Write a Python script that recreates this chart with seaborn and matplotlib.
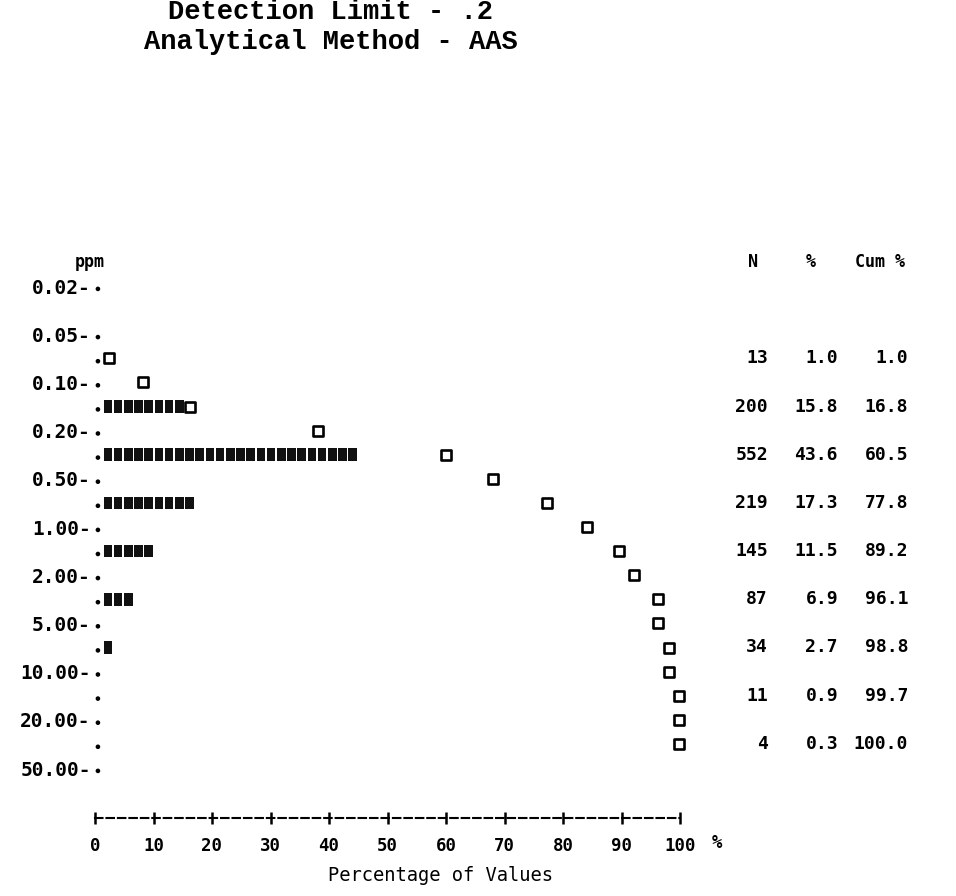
import matplotlib
matplotlib.use("Agg")
import matplotlib.pyplot as plt
import seaborn as sns
import pandas as pd

# ---------------- data ----------------
title_lines = ["Detection Limit - .2", "Analytical Method - AAS"]
ppm_labels = ["0.02", "0.05", "0.10", "0.20", "0.50", "1.00", "2.00",
              "5.00", "10.00", "20.00", "50.00"]
counts = [13, 200, 552, 219, 145, 87, 34, 11, 4]
pct = [1.0, 15.8, 43.6, 17.3, 11.5, 6.9, 2.7, 0.9, 0.3]
cum_pct = [1.0, 16.8, 60.5, 77.8, 89.2, 96.1, 98.8, 99.7, 100.0]
# number of printed "*" glyphs in each histogram row
stars = [0, 8, 25, 9, 5, 3, 1, 0, 0]
# plotted position of the cumulative marker on each histogram row
cum_mark = [2.4, 16.2, 60.0, 77.3, 89.5, 96.2, 98.1, 99.9, 99.9]
# cumulative marker printed on the class-boundary rows (0.10 ... 20.00)
cum_bound = [8.2, 38.1, 68.0, 84.1, 92.1, 96.2, 98.1, 99.9]
x_ticks = [0, 10, 20, 30, 40, 50, 60, 70, 80, 90, 100]
table_headers = ["N", "%", "Cum %"]
x_label = "Percentage of Values"

# ---------------- layout ----------------
W, H = 956, 896
sns.set_theme(style="white")
plt.rcParams["font.family"] = ["DejaVu Sans Mono", "DejaVu Sans"]
plt.rcParams["text.color"] = "black"
plt.rcParams["axes.labelcolor"] = "black"
plt.rcParams["xtick.color"] = "black"
plt.rcParams["ytick.color"] = "black"

fig = plt.figure(figsize=(W / 100, H / 100), dpi=100)
fig.patch.set_facecolor("white")

x0_px, x100_px = 95, 680
row0_px, row_step = 286, 24.1
top_px, bot_px = 250, 818
ax = fig.add_axes([x0_px / W, (H - bot_px) / H, (x100_px - x0_px) / W,
                   (bot_px - top_px) / H])
ax.set_facecolor("white")
ax.set_xlim(0, 100)
ax.set_ylim((bot_px - row0_px) / row_step, (top_px - row0_px) / row_step)

label_rows = [2 * i for i in range(len(ppm_labels))]
data_rows = [2 * i + 3 for i in range(len(counts))]
bound_rows = label_rows[2:2 + len(cum_bound)]

# dotted vertical axis (one "." per printed row)
dot_rows = sorted(label_rows + data_rows)
dots = pd.DataFrame({"x": [0.5] * len(dot_rows), "row": [r + 0.12 for r in dot_rows]})
sns.scatterplot(data=dots, x="x", y="row", ax=ax, marker="o", s=11,
                color="black", edgecolor="none", legend=False)

# histogram bars drawn as printed "*" glyph blocks
star_x, star_y = [], []
for r, n in zip(data_rows, stars):
    for k in range(n):
        star_x.append(2.2 + 1.744 * k)
        star_y.append(r)
block = [(-0.35, -0.5), (0.35, -0.5), (0.35, 0.5), (-0.35, 0.5)]
sdf = pd.DataFrame({"x": star_x, "row": star_y})
sns.scatterplot(data=sdf, x="x", y="row", ax=ax, marker=block, s=80,
                color="#111111", edgecolor="none", legend=False)

# cumulative markers (the "¤" glyphs)
cdf = pd.DataFrame({"x": cum_mark + cum_bound,
                    "row": data_rows + bound_rows})
sns.scatterplot(data=cdf, x="x", y="row", ax=ax, marker="s", s=42,
                facecolor="white", edgecolor="black", linewidth=1.9,
                legend=False)
for coll in ax.collections:
    coll.set_clip_on(False)

# axes styling: dashed "+----+" baseline
for side in ["left", "right", "top"]:
    ax.spines[side].set_visible(False)
ax.spines["bottom"].set_linewidth(1.5)
ax.spines["bottom"].set_linestyle((0, (3.6, 1.9)))
ax.spines["bottom"].set_color("black")
ax.set_xticks(x_ticks)
ax.set_xticklabels([str(t) for t in x_ticks], fontsize=12.5, fontweight="bold")
ax.tick_params(axis="x", direction="inout", length=9, width=1.8,
               color="black", pad=9, bottom=True)
ax.set_yticks(label_rows)
ax.set_yticklabels([lab + "-" for lab in ppm_labels], fontsize=14,
                   fontweight="bold")
ax.tick_params(axis="y", length=0, pad=3)
ax.set_xlabel(x_label, fontsize=13.5)
ax.xaxis.set_label_coords((440 - x0_px) / (x100_px - x0_px),
                          -(866 - bot_px) / (bot_px - top_px))
ax.set_ylabel("")
ax.grid(False)

fig.text(717 / W, 1 - 843 / H, "%", fontsize=12.5, fontweight="bold",
         ha="center", va="center")

# "ppm" header
ax.text((90 - x0_px) / 5.85, -1, "ppm", fontsize=12, fontweight="bold",
        ha="center", va="center", clip_on=False)

# right-hand table
px2x = lambda p: (p - x0_px) / 5.85
hdr_x = [px2x(753), px2x(811), px2x(880)]
for hx, h in zip(hdr_x, table_headers):
    ax.text(hx, -1, h, fontsize=12, fontweight="bold", ha="center",
            va="center", clip_on=False)
col_right = [px2x(768), px2x(838), px2x(908)]
for r, n, p, c in zip(data_rows, counts, pct, cum_pct):
    for cx, s in zip(col_right, [f"{n}", f"{p:.1f}", f"{c:.1f}"]):
        ax.text(cx, r, s, fontsize=13, fontweight="bold", ha="right",
                va="center", clip_on=False)

# title lines (typewriter)
fig.text(331 / W, 1 - 12 / H, title_lines[0], family="Liberation Mono",
         fontsize=19.5, fontweight="bold", ha="center", va="center")
fig.text(331 / W, 1 - 42 / H, title_lines[1], family="Liberation Mono",
         fontsize=19.5, fontweight="bold", ha="center", va="center")

fig.savefig("out.png", dpi=100, facecolor="white")
